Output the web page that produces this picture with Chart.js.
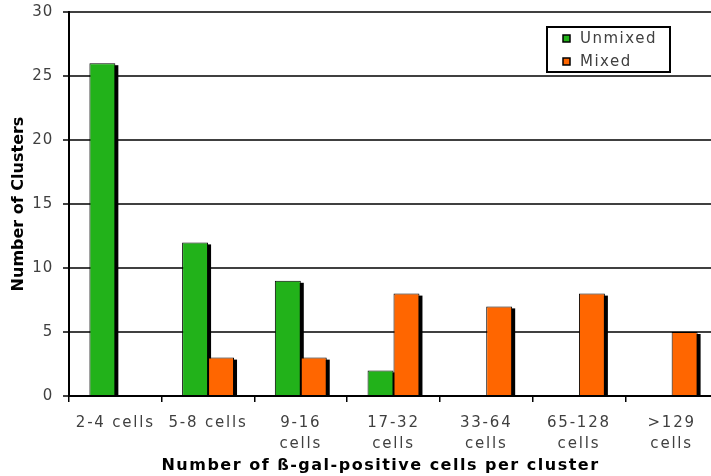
<!DOCTYPE html>
<html lang="en">
<head>
<meta charset="UTF-8">
<title>Number of Clusters</title>
<script src="https://cdn.jsdelivr.net/npm/chart.js"></script>
<style>
  html, body { margin: 0; padding: 0; background: #fff; overflow: hidden; }
  canvas { display: block; }
</style>
</head>
<body>
<canvas id="chart" width="718" height="476"></canvas>
<script>
// Data
const categories = ['2-4 cells', '5-8 cells', ['9-16', 'cells'], ['17-32', 'cells'], ['33-64', 'cells'], ['65-128', 'cells'], ['>129', 'cells']];
const unmixed = [26, 12, 9, 2, 0, 0, 0];
const mixed = [0, 3, 3, 8, 7, 8, 5];
const yTicks = [0, 5, 10, 15, 20, 25, 30];

const FONT = "'DejaVu Sans', Verdana, sans-serif";

// wider letter spacing for a scale's labels and title (title can be nudged sideways)
function spaced(scale, labelSp, titleSp, titleShift) {
  if (scale._spaced) return;
  scale._spaced = true;
  const dl = scale.drawLabels.bind(scale);
  const dt = scale.drawTitle.bind(scale);
  scale.drawLabels = (area) => { scale.ctx.letterSpacing = labelSp; dl(area); scale.ctx.letterSpacing = '0px'; };
  scale.drawTitle = (area) => {
    const ctx = scale.ctx;
    ctx.save();
    ctx.translate(titleShift || 0, 0);
    ctx.letterSpacing = titleSp;
    dt(area);
    ctx.restore();
  };
}

// black offset shadow behind each bar
const barShadow = {
  id: 'barShadow',
  beforeDatasetsDraw(chart) {
    const ctx = chart.ctx;
    ctx.save();
    ctx.fillStyle = '#000';
    chart.data.datasets.forEach((ds, i) => {
      chart.getDatasetMeta(i).data.forEach((bar, j) => {
        if (!ds.data[j]) return;
        const p = bar.getProps(['x', 'y', 'base', 'width'], true);
        ctx.fillRect(p.x - p.width / 2 + 3, p.y + 2, p.width, p.base - p.y - 2);
      });
    });
    ctx.restore();
  }
};

// boxed legend in the top right
const boxLegend = {
  id: 'boxLegend',
  afterDraw(chart) {
    const ctx = chart.ctx;
    const x = 547, y = 27, w = 123, h = 45;
    ctx.save();
    ctx.fillStyle = '#fff';
    ctx.fillRect(x, y, w, h);
    ctx.lineWidth = 2;
    ctx.strokeStyle = '#000';
    ctx.strokeRect(x, y, w, h);
    ctx.font = '15px ' + FONT;
    ctx.letterSpacing = '1.5px';
    ctx.textBaseline = 'middle';
    chart.data.datasets.forEach((ds, i) => {
      const cy = y + 11 + i * 23;
      ctx.fillStyle = ds.backgroundColor;
      ctx.fillRect(x + 16, cy - 3, 7, 7);
      ctx.lineWidth = 1.5;
      ctx.strokeStyle = '#000';
      ctx.strokeRect(x + 16, cy - 3, 7, 7);
      ctx.fillStyle = '#404040';
      ctx.fillText(ds.label, x + 33, cy + 1);
    });
    ctx.restore();
  }
};

new Chart(document.getElementById('chart'), {
  type: 'bar',
  data: {
    labels: categories,
    datasets: [
      { label: 'Unmixed', data: unmixed, backgroundColor: '#22b21a', borderColor: '#000', borderWidth: 1 },
      { label: 'Mixed', data: mixed, backgroundColor: '#ff6600', borderColor: '#000', borderWidth: 1 }
    ]
  },
  options: {
    responsive: false,
    animation: false,
    layout: { padding: { top: 12, right: 0, left: 0, bottom: 0 } },
    datasets: { bar: { categoryPercentage: 0.56, barPercentage: 1 } },
    plugins: { legend: { display: false }, tooltip: { enabled: false } },
    scales: {
      x: {
        afterFit(s) { s.height = 80; s.paddingLeft = 0; s.paddingRight = 0; spaced(s, '1.8px', '1.5px', -13); },
        border: { color: '#000', width: 2 },
        grid: { offset: true, drawOnChartArea: false, color: '#000', tickLength: 6, lineWidth: 1.5 },
        ticks: { color: '#404040', font: { family: FONT, size: 15, lineHeight: 1.4 }, padding: 11, maxRotation: 0, autoSkip: false },
        title: {
          display: true,
          text: 'Number of ß-gal-positive cells per cluster',
          color: '#000',
          font: { family: FONT, size: 16, weight: 'bold' },
          padding: { top: 0, bottom: 1 }
        }
      },
      y: {
        min: 0,
        max: 30,
        afterFit(s) { s.width = 69; s.paddingTop = 0; s.paddingBottom = 0; spaced(s, '0.8px', '0px', 0); },
        afterBuildTicks(s) { s.ticks = yTicks.map(v => ({ value: v })); },
        border: { color: '#000', width: 2 },
        grid: { color: '#404040', lineWidth: 2, tickLength: 6 },
        ticks: { color: '#404040', font: { family: FONT, size: 15 }, padding: 10 },
        title: {
          display: true,
          text: 'Number of Clusters',
          color: '#000',
          font: { family: FONT, size: 16, weight: 'bold' },
          padding: { top: 9, bottom: 0 }
        }
      }
    }
  },
  plugins: [barShadow, boxLegend]
});
</script>
</body>
</html>
